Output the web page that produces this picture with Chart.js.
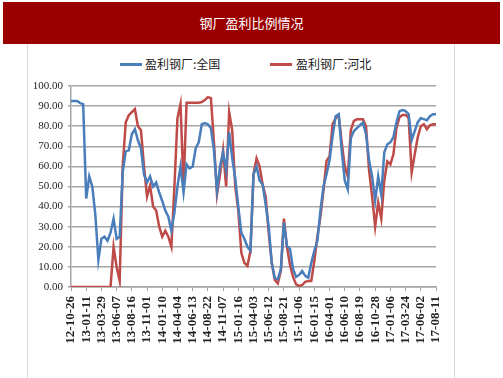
<!DOCTYPE html>
<html>
<head>
<meta charset="utf-8">
<script src="https://cdn.jsdelivr.net/npm/chart.js@4.4.0/dist/chart.umd.min.js"></script>
<style>
  body { margin: 0; background: #fff; }
  #wrap { position: relative; width: 503px; height: 378px; overflow: hidden; }
  #titleBar {
    position: absolute; left: 3px; top: 2px; width: 497px; height: 42px;
    background: #9b0000; color: #fff; text-align: center;
    font: 13px "Noto Sans CJK SC", sans-serif; line-height: 42px; z-index: 2;
  }
  .side { position: absolute; top: 44px; width: 1px; height: 334px; background: #d9d9d9; }
  .legendLine { position: absolute; top: 63px; width: 22px; height: 3px; }
  .legendText { position: absolute; top: 56px; font: 12px "Noto Sans CJK SC", sans-serif; color: #222; line-height: 16px; }
  canvas { position: absolute; left: 0; top: 0; }
</style>
</head>
<body>
<div id="wrap">
  <div id="titleBar">钢厂盈利比例情况</div>
  <div class="side" style="left:27px"></div>
  <div class="side" style="left:454px"></div>
  <div class="legendLine" style="left:120px;background:#4a7ebb"></div>
  <div class="legendText" style="left:145px">盈利钢厂:全国</div>
  <div class="legendLine" style="left:270px;background:#be4b48"></div>
  <div class="legendText" style="left:296px">盈利钢厂:河北</div>
  <canvas id="profitChart" width="503" height="378"></canvas>
</div>
<script>
// x-axis tick labels (every 5th data point carries one)
const tickLabels = ["12-10-26", "13-01-11", "13-03-29", "13-06-07", "13-08-16", "13-11-01",
  "14-01-10", "14-04-04", "14-06-13", "14-08-22", "14-11-07", "15-01-16", "15-04-03",
  "15-06-12", "15-08-21", "15-11-06", "16-01-15", "16-04-01", "16-06-10", "16-08-19",
  "16-10-28", "17-01-06", "17-03-24", "17-06-02", "17-08-11"];
const pointsPerTick = 5;

// 盈利钢厂:全国 (%)
const nationalValues = [
  92.5, 92.5, 92.5, 91.5, 91, 44, 55, 50, 36, 13.5,
  24, 25, 23, 27, 34, 24, 25, 57, 67.5, 68,
  76, 78.5, 73, 69, 56, 52, 55, 50, 52, 47,
  42.8, 38, 35, 28, 37, 50, 60, 47, 61, 59,
  60, 69, 72, 81, 81.5, 81, 79, 68, 48, 60,
  67, 58, 77, 64, 54, 40, 27, 24, 20, 18,
  56, 60, 53, 51, 41, 30, 12, 4.5, 3.8, 9,
  32, 20.5, 19, 9, 5, 6, 8, 5.5, 4.6, 12,
  18, 23, 38, 50, 56, 63, 75, 85, 86, 67.7,
  53, 48.6, 74, 77.6, 79, 80.5, 81.8, 76, 63, 55,
  43, 55, 46, 67, 71, 72, 74.5, 82, 87.5, 88,
  87.5, 86, 73, 77.5, 82, 84, 83.5, 83, 85, 86, 86
];

// 盈利钢厂:河北 (%)
const hebeiValues = [
  0, 0, 0, 0, 0, 0, 0, 0, 0, 0,
  0, 0, 0, 0, 20, 10, 3, 60, 82, 85.5,
  87, 88.5, 80, 78, 60, 45, 50.5, 40, 38, 30,
  25, 28, 25, 20, 50, 84, 91, 50, 91.7, 91.7,
  91.7, 91.7, 91.7, 92, 93, 94.5, 94, 72, 46, 56,
  68, 50, 87, 78, 50, 38, 17, 12, 10.5, 18,
  56, 64, 60, 51, 45, 27, 12, 3.5, 1.8, 8,
  34, 20, 11, 5, 1.3, 0.5, 1, 2.6, 3, 3,
  13, 25, 35, 48, 62.7, 65, 81, 84, 85.5, 72,
  60, 55, 78, 82.6, 83.4, 83.4, 83.4, 80, 58, 45,
  30, 42, 34, 53, 62.5, 61, 66, 79, 84.5, 85.6,
  85.6, 84.2, 57, 66, 74.5, 80, 81, 78.5, 80.5, 81, 81
];

const categories = nationalValues.map((v, i) =>
  i % pointsPerTick === 0 ? tickLabels[i / pointsPerTick] : "");

const ctx = document.getElementById("profitChart").getContext("2d");

new Chart(ctx, {
  type: "line",
  data: {
    labels: categories,
    datasets: [
      {
        label: "盈利钢厂:全国",
        data: nationalValues,
        borderColor: "#4a7ebb",
        backgroundColor: "#4a7ebb",
        borderWidth: 2.5,
        pointRadius: 0,
        tension: 0
      },
      {
        label: "盈利钢厂:河北",
        data: hebeiValues,
        borderColor: "#be4b48",
        backgroundColor: "#be4b48",
        borderWidth: 2.5,
        pointRadius: 0,
        tension: 0
      }
    ]
  },
  options: {
    responsive: false,
    animation: false,
    layout: { padding: { top: 86, left: 0, right: 67, bottom: 0 } },
    plugins: {
      legend: { display: false },
      tooltip: { enabled: false }
    },
    scales: {
      x: {
        afterFit: (s) => { s.height = 91; },
        grid: { drawOnChartArea: false, color: "#a6a6a6", tickLength: 4 },
        border: { color: "#a6a6a6", width: 1.5 },
        ticks: {
          autoSkip: false,
          minRotation: 90,
          maxRotation: 90,
          padding: 5,
          color: "#222",
          font: { family: "'Liberation Serif', serif", size: 13, weight: "bold" },
          callback: (v, i) => (i % pointsPerTick === 0 ? tickLabels[i / pointsPerTick] : null)
        }
      },
      y: {
        min: 0,
        max: 100,
        afterFit: (s) => { s.width = 71; },
        grid: { color: "#a6a6a6", lineWidth: 1.5, tickLength: 3 },
        border: { color: "#a6a6a6", width: 1.5 },
        ticks: {
          stepSize: 10,
          padding: 5,
          color: "#222",
          font: { family: "'Liberation Serif', serif", size: 11 },
          callback: (v) => v.toFixed(2)
        }
      }
    }
  }
});
</script>
</body>
</html>
